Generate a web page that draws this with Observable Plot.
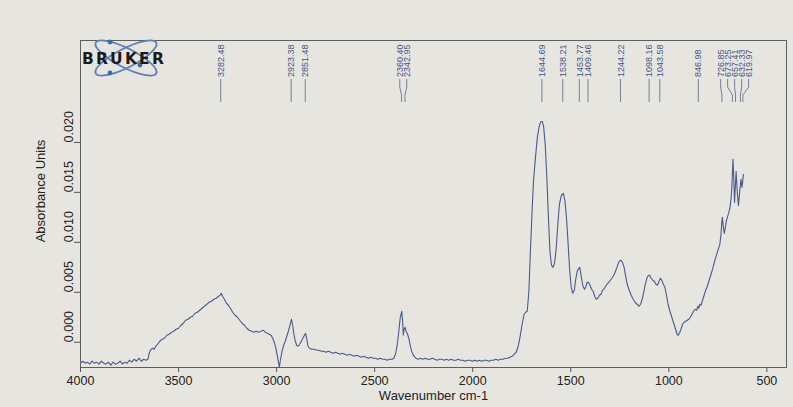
<!DOCTYPE html>
<html><head><meta charset="utf-8">
<script src="https://cdn.jsdelivr.net/npm/d3@7"></script>
<script src="https://cdn.jsdelivr.net/npm/@observablehq/plot@0.6"></script>
<style>
html,body{margin:0;padding:0;background:#e7e5df;}
#chart{width:793px;height:407px;overflow:hidden;}
</style></head><body><div id="chart"></div>
<script>
const wavenumber = [
4000,3988,3976,3965,3953,3941,3930,3918,3906,3894,3882,3870,3858,3846,3834,3822,3810,3798,3786,3774,3762,3750,3738,3726,3714,3702,3690,3678,3666,3656,3648,3640,3632,3624,3616,3606,3596,
3584,3572,3560,3548,3536,3524,3512,3500,3488,3476,3464,3452,3440,3428,3416,3404,3392,3380,3368,3356,3344,3332,3320,3308,3296,3288,3282,3276,3266,3256,3246,3236,3224,3212,3200,3188,3176,3164,3152,3140,3128,3116,3104,3092,3080,3068,3058,3048,3038,3028,3020,3012,3004,2996,2990,2986,2980,2972,2964,2956,2948,2940,2932,2924,2918,2912,2906,2898,2890,2882,2874,2866,2858,2852,2846,2840,2832,2820,2808,2796,2784,2772,2760,2748,2736,2724,2712,2700,2688,2676,2664,2652,2640,2628,2616,2604,2592,2580,2568,2556,2544,2532,2520,2508,2496,2484,2472,2460,2448,2436,2424,2412,2402,2394,2386,2378,2370,2362,2357,2354,2350,2345,2340,2334,2326,2318,2310,2300,2290,2278,2266,2254,2242,2230,2218,2206,2194,2182,2170,2158,2146,2134,2122,2110,2098,2086,2074,2062,2050,2038,2026,2014,2002,1990,1978,1966,1954,1942,1930,1918,1906,1894,1882,1870,1858,1846,1834,1822,1810,1798,1788,1778,1768,1758,1748,1738,1730,1722,1714,1706,1698,1690,1680,1670,1660,1652,1645,1638,1630,1622,1614,1606,1598,1590,1582,1574,1566,1558,1548,1538,1530,1522,1514,1506,1498,1490,1482,1474,1466,1454,1446,1438,1430,1422,1416,1410,1402,1394,1386,1378,1370,1362,1354,1346,1338,1328,1316,1302,1290,1278,1266,1256,1248,1244,1236,1228,1220,1212,1202,1192,1182,1172,1162,1152,1144,1136,1128,1120,1112,1104,1098,1090,1082,1074,1066,1058,1050,1043,1036,1028,1020,1012,1004,996,988,980,972,964,958,952,946,938,930,922,914,906,898,890,882,874,866,858,852,847,842,836,828,820,812,804,796,788,780,772,764,756,748,740,734,730,727,722,717,712,706,700,694,688,682,678,673,669,665,661,657,651,645,639,632,627,624,620
];
const absorbance = [
-0.0021,-0.0019,-0.0021,-0.0020,-0.0022,-0.0019,-0.0021,-0.0020,-0.0022,-0.0019,-0.0021,-0.0022,-0.0020,-0.0023,-0.0020,-0.0022,-0.0021,-0.0019,-0.0022,-0.0020,-0.0021,-0.0018,-0.0020,-0.0017,-0.0019,-0.0016,-0.0019,-0.0017,-0.0018,-0.0017,-0.0010,-0.0007,-0.0006,-0.0007,-0.0004,-0.0002,0.0001,
0.0003,0.0004,0.0007,0.0008,0.0010,0.0011,0.0013,0.0014,0.0017,0.0019,0.0022,0.0023,0.0025,0.0026,0.0029,0.0030,0.0032,0.0034,0.0036,0.0038,0.0040,0.0041,0.0043,0.0044,0.0046,0.0047,0.0049,0.0046,0.0043,0.0039,0.0037,0.0034,0.0030,0.0027,0.0025,0.0022,0.0019,0.0017,0.0014,0.0012,0.0011,0.0010,0.0011,0.0010,0.0011,0.0012,0.0010,0.0009,0.0008,0.0007,0.0004,0.0000,-0.0006,-0.0014,-0.0021,-0.0025,-0.0017,-0.0009,-0.0003,0.0001,0.0006,0.0011,0.0017,0.0023,0.0017,0.0008,0.0002,-0.0003,-0.0004,-0.0002,0.0001,0.0004,0.0007,0.0009,0.0003,-0.0004,-0.0006,-0.0007,-0.0007,-0.0008,-0.0008,-0.0009,-0.0009,-0.0010,-0.0009,-0.0010,-0.0011,-0.0010,-0.0011,-0.0012,-0.0011,-0.0012,-0.0013,-0.0012,-0.0013,-0.0014,-0.0013,-0.0014,-0.0015,-0.0014,-0.0015,-0.0016,-0.0015,-0.0016,-0.0016,-0.0017,-0.0016,-0.0017,-0.0017,-0.0018,-0.0017,-0.0017,-0.0016,-0.0012,-0.0004,0.0009,0.0024,0.0031,0.0020,0.0007,0.0013,0.0015,0.0011,0.0009,0.0004,-0.0004,-0.0010,-0.0014,-0.0016,-0.0017,-0.0016,-0.0017,-0.0016,-0.0017,-0.0017,-0.0016,-0.0017,-0.0018,-0.0017,-0.0017,-0.0018,-0.0017,-0.0018,-0.0017,-0.0018,-0.0018,-0.0017,-0.0018,-0.0018,-0.0019,-0.0018,-0.0018,-0.0019,-0.0018,-0.0019,-0.0018,-0.0019,-0.0018,-0.0018,-0.0019,-0.0018,-0.0018,-0.0017,-0.0018,-0.0017,-0.0017,-0.0016,-0.0016,-0.0015,-0.0014,-0.0012,-0.0010,-0.0004,0.0006,0.0018,0.0028,0.0030,0.0031,0.0050,0.0090,0.0128,0.0162,0.0185,0.0206,0.0217,0.0221,0.0221,0.0215,0.0197,0.0165,0.0125,0.0090,0.0077,0.0075,0.0080,0.0095,0.0118,0.0138,0.0147,0.0149,0.0142,0.0125,0.0100,0.0073,0.0055,0.0049,0.0052,0.0064,0.0072,0.0075,0.0065,0.0056,0.0053,0.0056,0.0060,0.0060,0.0057,0.0053,0.0051,0.0046,0.0043,0.0044,0.0047,0.0048,0.0052,0.0054,0.0058,0.0061,0.0064,0.0068,0.0074,0.0080,0.0082,0.0082,0.0080,0.0075,0.0066,0.0058,0.0052,0.0047,0.0043,0.0040,0.0038,0.0036,0.0038,0.0043,0.0050,0.0058,0.0064,0.0067,0.0067,0.0064,0.0062,0.0061,0.0058,0.0057,0.0061,0.0064,0.0062,0.0058,0.0055,0.0047,0.0038,0.0032,0.0027,0.0022,0.0017,0.0012,0.0008,0.0007,0.0009,0.0013,0.0018,0.0020,0.0021,0.0022,0.0023,0.0025,0.0028,0.0031,0.0033,0.0032,0.0036,0.0034,0.0038,0.0037,0.0042,0.0047,0.0052,0.0056,0.0061,0.0066,0.0071,0.0077,0.0083,0.0088,0.0093,0.0098,0.0108,0.0120,0.0125,0.0115,0.0109,0.0115,0.0122,0.0126,0.0130,0.0135,0.0145,0.0158,0.0183,0.0165,0.0140,0.0155,0.0171,0.0150,0.0137,0.0150,0.0163,0.0155,0.0160,0.0168
];
const peakLabels = [3282.48,2923.38,2851.48,2360.40,2342.95,1644.69,1538.21,1453.77,1409.46,1244.22,1098.16,1043.58,846.98,726.85,673.25,657.41,632.33,619.97];
const xTicks = [4000,3500,3000,2500,2000,1500,1000,500];
const yTicks = [0,0.005,0.010,0.015,0.020];
const yTitle = "Absorbance Units";
const xTitle = "Wavenumber cm-1";
const brand = "BRUKER";

const spectrum = wavenumber.map((w, i) => ({w, a: absorbance[i]}));
const inkBlue = "#44558c";

function peakMarks(index, scales, values, dimensions) {
  const g = d3.create("svg:g");
  const x = scales.x;
  const top = dimensions.marginTop;
  const items = peakLabels.map(p => ({p, px: x(p)})).sort((a, b) => a.px - b.px);
  const gap = 7;
  const clusters = items.map(d => ({items: [d]}));
  const place = c => {
    const m = d3.mean(c.items, d => d.px);
    c.start = m - (c.items.length - 1) * gap / 2;
    c.end = c.start + (c.items.length - 1) * gap;
  };
  clusters.forEach(place);
  let merged = true;
  while (merged) {
    merged = false;
    for (let i = 1; i < clusters.length; i++) {
      if (clusters[i].start - clusters[i - 1].end < gap) {
        clusters[i - 1].items.push(...clusters[i].items);
        place(clusters[i - 1]);
        clusters.splice(i, 1);
        merged = true;
        break;
      }
    }
  }
  clusters.forEach(c => c.items.forEach((d, k) => { d.lx = c.items.length === 1 ? d.px : c.start + k * gap; }));
  for (const d of items) {
    g.append("path")
      .attr("d", `M${d.lx},${top + 39}V${top + 47}L${d.px},${top + 55}V${top + 62}`)
      .attr("fill", "none").attr("stroke", "#5a6488").attr("stroke-width", 0.8);
    g.append("text")
      .attr("transform", `translate(${d.lx},${top + 37}) rotate(-90)`)
      .attr("text-anchor", "start")
      .attr("dy", "0.35em")
      .attr("font-size", 9)
      .attr("fill", inkBlue)
      .text(d.p.toFixed(2));
  }
  return g.node();
}

function logo(index, scales, values, dimensions) {
  const g = d3.create("svg:g");
  const cx = dimensions.marginLeft + 46, cy = dimensions.marginTop + 18;
  [27, -27].forEach(r => {
    g.append("ellipse").attr("cx", cx).attr("cy", cy).attr("rx", 34).attr("ry", 9.5)
      .attr("transform", `rotate(${r},${cx},${cy})`)
      .attr("fill", "none").attr("stroke", "#5b7fb8").attr("stroke-width", 1.8);
  });
  [[-16, -16], [-16, 15], [14, 7]].forEach(([dx, dy]) => {
    g.append("circle").attr("cx", cx + dx).attr("cy", cy + dy).attr("r", 2.4).attr("fill", "#3f68a8");
  });
  g.append("text").attr("x", cx - 2).attr("y", cy + 5.5).attr("text-anchor", "middle")
    .attr("font-family", "DejaVu Sans, Liberation Sans, sans-serif").attr("font-weight", "bold")
    .attr("font-size", 15.5).attr("letter-spacing", 2.2).attr("fill", "#1b1b1b").text(brand);
  return g.node();
}

const chart = Plot.plot({
  width: 793, height: 407,
  marginLeft: 80, marginRight: 7, marginTop: 40, marginBottom: 40,
  style: {background: "transparent", fontFamily: "'Liberation Sans', Arial, sans-serif", color: "#222"},
  x: {domain: [4000, 400]},
  y: {domain: [-0.00253, 0.0302]},
  marks: [
    Plot.frame({stroke: "#5e5e5e", strokeWidth: 1}),
    Plot.axisX(xTicks, {tickSize: 5, tickPadding: 4, fontSize: 12.5, tickFormat: d => String(d), label: null, stroke: "#555"}),
    Plot.axisY(yTicks, {tickSize: 6, tickFormat: () => "", label: null, stroke: "#555"}),
    Plot.text(yTicks, {y: d => d, text: d => d3.format(".3f")(d), frameAnchor: "left", dx: -12, rotate: -90, fontSize: 12.5, fill: "#222"}),
    Plot.text([yTitle], {y: () => d3.mean(yTicks), text: d => d, frameAnchor: "left", dx: -40, rotate: -90, fontSize: 13, fill: "#222"}),
    Plot.text([xTitle], {text: d => d, frameAnchor: "bottom", dy: 32, fontSize: 13, fill: "#222"}),
    Plot.line(spectrum, {x: "w", y: "a", stroke: "#4b5a8c", strokeWidth: 1.1}),
    peakMarks,
    logo
  ]
});
document.getElementById("chart").append(chart);
</script></body></html>
